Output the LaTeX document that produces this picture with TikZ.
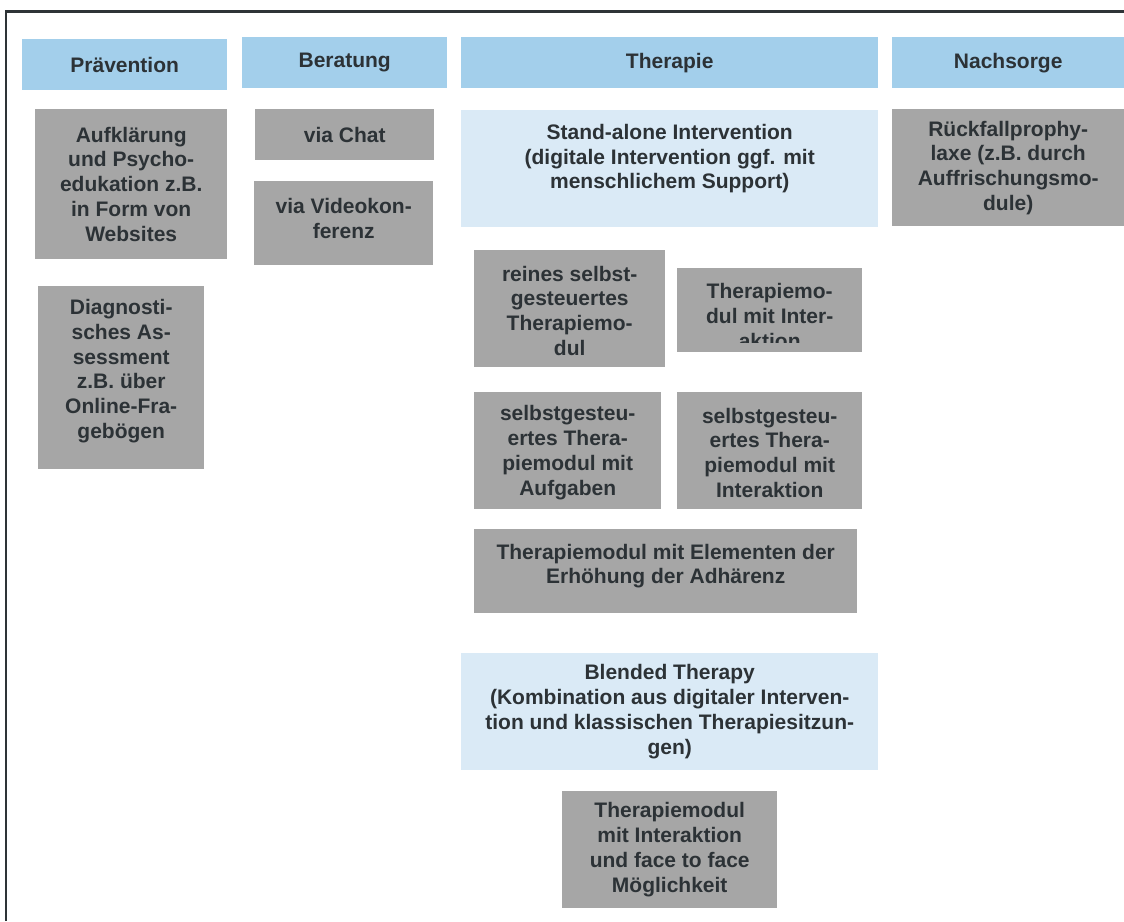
\documentclass[tikz,border=0pt]{standalone}
\usepackage{fontspec}
\setmainfont{Liberation Sans}
\definecolor{hdr}{HTML}{A3CFEB}
\definecolor{lblue}{HTML}{DAEAF6}
\definecolor{gfill}{HTML}{A6A6A6}
\definecolor{txtc}{HTML}{2C3236}
\definecolor{framec}{HTML}{2E3437}
\tikzset{
  boxbase/.style={rectangle, inner sep=0pt, anchor=north west, draw=none},
  hdrbox/.style={boxbase, fill=hdr},
  lbbox/.style={boxbase, fill=lblue},
  grbox/.style={boxbase, fill=gfill},
  lbl/.style={text=txtc, font=\bfseries\fontsize{21}{24.75}\selectfont, align=center, inner sep=0pt},
  frameline/.style={draw=framec, line width=2.5pt},
}
\begin{document}
\begin{tikzpicture}[x=1pt,y=-1pt]
\useasboundingbox (0,0) rectangle (1124,921);
% frame
\draw[frameline] (6,921) -- (6,11.5) -- (1130,11.5);
% headers
\node[hdrbox, minimum width=205pt, minimum height=51pt] (prae) at (22,39) {};
\node[hdrbox, minimum width=205pt, minimum height=51pt] (bera) at (242,37) {};
\node[hdrbox, minimum width=417pt, minimum height=51pt] (ther) at (461,37) {};
\node[hdrbox, minimum width=232pt, minimum height=51pt] (nach) at (892,37) {};
\node[lbl] (praet) at (prae.center) {Prävention};
\node[lbl] (berat) at (bera.center) {Beratung};
\node[lbl] (thert) at (ther.center) {Therapie};
\node[lbl] (nacht) at (nach.center) {Nachsorge};
% Prävention column
\node[grbox, minimum width=192pt, minimum height=150pt] (auf) at (35,109) {};
\node[lbl] (auft) at (auf.center) {Aufklärung\\und Psycho-\\edukation z.B.\\in Form von\\Websites};
\node[grbox, minimum width=166pt, minimum height=183pt] (diag) at (38,286) {};
\node[lbl] (diagt) at ([yshift=6.5pt]diag.center) {Diagnosti-\\sches As-\\sessment\\z.B. über\\Online-Fra-\\gebögen};
% Beratung column
\node[grbox, minimum width=179pt, minimum height=51pt] (chat) at (255,109) {};
\node[lbl] (chatt) at (chat.center) {via Chat};
\node[grbox, minimum width=179pt, minimum height=84pt] (video) at (254,181) {};
\node[lbl] (videot) at ([yshift=5pt]video.center) {via Videokon-\\ferenz};
% Therapie column
\node[lbbox, minimum width=417pt, minimum height=117pt] (stand) at (461,110) {};
\node[lbl] (standt) at ([yshift=10pt]stand.center) {Stand-alone Intervention\\(digitale Intervention ggf. mit\\menschlichem Support)};
\node[grbox, minimum width=191pt, minimum height=117pt] (reines) at (474,250) {};
\node[lbl] (reinest) at ([yshift=-2pt]reines.center) {reines selbst-\\gesteuertes\\Therapiemo-\\dul};
\node[grbox, minimum width=185pt, minimum height=84pt] (inta) at (677,268) {};
\begin{scope}
\clip (677,268) rectangle (862,342);
\node[lbl] (intat) at ([yshift=-6pt]inta.center) {Therapiemo-\\dul mit Inter-\\aktion};
\end{scope}
\node[grbox, minimum width=187pt, minimum height=117pt] (sga) at (474,392) {};
\node[lbl] (sgat) at ([yshift=-2pt]sga.center) {selbstgesteu-\\ertes Thera-\\piemodul mit\\Aufgaben};
\node[grbox, minimum width=185pt, minimum height=117pt] (sgi) at (677,392) {};
\node[lbl] (sgit) at ([yshift=-2pt]sgi.center) {selbstgesteu-\\ertes Thera-\\piemodul mit\\Interaktion};
\node[grbox, minimum width=383pt, minimum height=84pt] (elem) at (474,529) {};
\node[lbl] (elemt) at ([yshift=5pt]elem.center) {Therapiemodul mit Elementen der\\Erhöhung der Adhärenz};
\node[lbbox, minimum width=417pt, minimum height=117pt] (blend) at (461,653) {};
\node[lbl] (blendt) at (blend.center) {Blended Therapy\\(Kombination aus digitaler Interven-\\tion und klassischen Therapiesitzun-\\gen)};
\node[grbox, minimum width=215pt, minimum height=117pt] (face) at (562,791) {};
\node[lbl] (facet) at (face.center) {Therapiemodul\\mit Interaktion\\und face to face\\Möglichkeit};
% Nachsorge column
\node[grbox, minimum width=232pt, minimum height=117pt] (rueck) at (892,109) {};
\node[lbl] (rueckt) at (rueck.center) {Rückfallprophy-\\laxe (z.B. durch\\Auffrischungsmo-\\dule)};
\end{tikzpicture}
\end{document}
